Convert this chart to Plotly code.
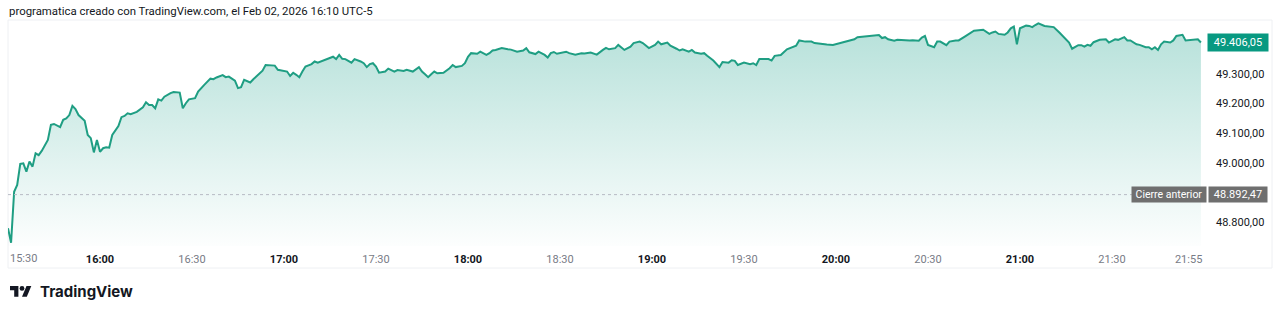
import pandas as pd
import plotly.graph_objects as go

# ---------------- data ----------------
session_start = "2026-02-02 15:30"
minutes_since_open = [
    0, 1, 2, 3, 4, 5, 6, 7, 8, 9, 10, 11, 13, 14, 15, 17, 18, 19, 20, 21, 22, 23, 25, 26, 27, 28, 29, 30,
    31, 32, 33, 34, 36, 37, 38, 39, 40, 42, 44, 45, 46, 47, 48, 49, 50, 51, 53, 54, 56, 57, 58, 59, 61, 62,
    64, 66, 67, 68, 70, 71, 72, 73, 74, 75, 76, 77, 78, 79, 80, 82, 83, 84, 86, 87, 88, 90, 91, 92, 93, 94,
    95, 96, 97, 99, 100, 101,
    104, 106, 107, 108, 109, 110, 112, 113, 115, 116, 117, 118, 119, 120, 121, 123, 124, 126, 127, 129, 130,
    131, 132, 134, 135, 136, 137, 138, 139, 140, 142, 144, 145, 146, 148, 149, 150, 151, 153, 154, 156, 157,
    158, 159, 161, 163, 164, 166, 168, 169, 170, 172, 173, 175, 176, 177, 178, 179, 182, 183, 185, 187, 188,
    190, 191, 192, 194, 195, 196, 198, 199, 201, 203, 204, 206,
    207, 209, 211, 212, 213, 215, 216, 218, 219, 220, 222, 223, 224, 226, 227, 228, 230, 232, 233, 235, 236,
    237, 238, 240, 242, 243, 244, 245, 248, 249, 250, 252, 253, 254, 257, 258, 260, 262, 263, 265, 267, 269,
    271, 272, 274, 276, 277, 279, 281, 282, 284, 285, 286, 287, 289, 290, 292, 294, 295, 297, 298, 299, 300,
    302, 303, 304, 306, 307, 309,
    310, 312, 314, 315, 318, 320, 321, 322, 323, 325, 326, 327, 328, 329, 330, 332, 333, 334, 335, 336, 338,
    339, 341, 343, 345, 346, 347, 349, 350, 351, 352, 353, 354, 356, 358, 359, 361, 362, 364, 365, 366, 368,
    369, 371, 372, 373, 374, 375, 376, 377, 379, 380, 381, 383, 384, 386, 388, 389,
]
prices = [
    48779, 48730, 48902, 48925, 48996, 48998, 48970, 49004, 48987, 49032, 49026, 49040, 49077, 49128, 49131,
    49120, 49145, 49150, 49161, 49192, 49181, 49161, 49142, 49094, 49083, 49035, 49077, 49037, 49049, 49052,
    49051, 49094, 49124, 49154, 49158, 49167, 49164, 49172, 49187, 49204, 49195, 49195, 49184, 49214, 49210,
    49223, 49235, 49239, 49237, 49184, 49201, 49214, 49218, 49240, 49263, 49284, 49282, 49288, 49296, 49289,
    49291, 49283, 49277, 49252, 49255, 49280, 49276, 49271, 49282, 49302, 49311, 49330, 49330, 49328, 49314,
    49311, 49308, 49293, 49304, 49297, 49289, 49308, 49325, 49333, 49342, 49338,
    49350, 49358, 49350, 49364, 49351, 49350, 49338, 49350, 49342, 49336, 49323, 49333, 49336, 49325, 49304,
    49308, 49318, 49308, 49313, 49310, 49314, 49310, 49308, 49323, 49308, 49299, 49289, 49299, 49308, 49302,
    49304, 49319, 49330, 49323, 49327, 49336, 49358, 49370, 49368, 49375, 49364, 49370, 49379, 49381, 49387,
    49383, 49382, 49375, 49379, 49387, 49373, 49367, 49375, 49364, 49355, 49370, 49374, 49368, 49375, 49370,
    49365, 49370, 49369, 49372, 49369, 49365, 49381, 49388, 49383, 49387, 49398, 49381, 49392, 49404, 49409,
    49404, 49387, 49398, 49409, 49400, 49406, 49395, 49385, 49379, 49383, 49375, 49381, 49372, 49368, 49370,
    49361, 49345, 49323, 49340, 49338, 49346, 49344, 49330, 49338, 49333, 49336, 49330, 49350, 49350, 49345,
    49361, 49364, 49372, 49383, 49395, 49413, 49409, 49409, 49404, 49401, 49399, 49398, 49404, 49407, 49412,
    49417, 49424, 49426, 49426, 49429, 49431, 49421, 49424, 49417, 49412, 49415, 49413, 49413, 49414, 49412,
    49423, 49428, 49398, 49390, 49409, 49409, 49397, 49409, 49413,
    49413, 49426, 49438, 49446, 49449, 49435, 49440, 49443, 49435, 49432, 49440, 49454, 49460, 49400, 49454,
    49463, 49462, 49458, 49465, 49471, 49462, 49460, 49458, 49438, 49415, 49406, 49385, 49397, 49397, 49392,
    49398, 49395, 49407, 49415, 49417, 49406, 49417, 49415, 49424, 49413, 49413, 49400, 49398, 49390, 49390,
    49383, 49390, 49381, 49400, 49409, 49406, 49413, 49428, 49432, 49413, 49415, 49417, 49406.05,
]
previous_close = 48892.47
previous_close_label = "Cierre anterior"
y_tick_values = [48800, 49000, 49100, 49200, 49300]
x_tick_labels = ["16:00", "16:30", "17:00", "17:30", "18:00", "18:30", "19:00", "19:30",
                 "20:00", "20:30", "21:00", "21:30", "21:55"]
first_time_label = "15:30"
header_text = "programatica creado con TradingView.com, el Feb 02, 2026 16:10 UTC-5"
brand_text = "TradingView"

if len(minutes_since_open) != len(prices):
    raise SystemExit(f"length mismatch {len(minutes_since_open)} vs {len(prices)}")

# ---------------- styling / geometry ----------------
W, H = 1280, 315
ML, MR, MT, MB = 8, 75, 20, 69
PW, PH = W - ML - MR, H - MT - MB
FONT = "Roboto"
BRAND_FONT = "Inter"
DARK = "#131722"
GREY = "#787b86"
LINE = "#1f9e83"
GREEN_LABEL = "#089981"
GREY_LABEL = "#6f6f6f"


def px_x(p):
    return (p - ML) / PW


def px_y(p):
    return (MT + PH - p) / PH


def fmt(v):
    s = f"{v:,.2f}"
    return s.replace(",", "_").replace(".", ",").replace("_", ".")


t0 = pd.Timestamp(session_start)
times = [t0 + pd.Timedelta(minutes=m) for m in minutes_since_open]
day = t0.strftime("%Y-%m-%d")
x_tick_vals = [pd.Timestamp(f"{day} {lbl}") for lbl in x_tick_labels]
x_tick_text = [f"<b>{lbl}</b>" if lbl.endswith(":00") else f"<span style='color:{GREY}'>{lbl}</span>"
               for lbl in x_tick_labels]

y_bottom, y_top = 48719, 49482
x_end = t0 + pd.Timedelta(minutes=390, seconds=20)

fig = go.Figure()
fig.add_trace(go.Scatter(
    x=times, y=prices, mode="lines",
    line=dict(color=LINE, width=2),
    fill="tozeroy",
    fillgradient=dict(type="vertical",
                      colorscale=[[0, "rgba(8,153,129,0.01)"], [1, "rgba(8,153,129,0.30)"]],
                      start=y_bottom, stop=max(prices)),
    hoverinfo="skip",
))

shapes = [
    # chart frame
    dict(type="rect", xref="paper", yref="paper", x0=px_x(8), x1=px_x(1272), y0=px_y(268), y1=px_y(20),
         line=dict(color="#eef0f3", width=1), fillcolor="rgba(0,0,0,0)", layer="below"),
    # previous close dotted line
    dict(type="line", xref="paper", yref="y", x0=0, x1=1, y0=previous_close, y1=previous_close,
         line=dict(color="#b8bbc4", width=1, dash="dot")),
]

# TradingView logo (T block, dot, slash) in logo units -> pixels
S = 0.6


def LX(u):
    return px_x(10 + S * u)


def LY(v):
    return px_y(286 + S * (v - 4))


t_path = "M {} {} L {} {} L {} {} L {} {} L {} {} L {} {} Z".format(
    LX(0), LY(4), LX(14), LY(4), LX(14), LY(22), LX(7), LY(22), LX(7), LY(11), LX(0), LY(11))
slash_path = "M {} {} L {} {} L {} {} L {} {} Z".format(
    LX(20), LY(22), LX(27.5), LY(4), LX(35.5), LY(4), LX(28), LY(22))
shapes += [
    dict(type="path", xref="paper", yref="paper", path=t_path, fillcolor=DARK, line=dict(width=0)),
    dict(type="path", xref="paper", yref="paper", path=slash_path, fillcolor=DARK, line=dict(width=0)),
    dict(type="circle", xref="paper", yref="paper", x0=LX(16), x1=LX(24), y0=LY(12), y1=LY(4),
         fillcolor=DARK, line=dict(width=0)),
]

annotations = [
    dict(text=header_text, xref="paper", yref="paper", x=px_x(7), y=px_y(11), xanchor="left",
         yanchor="middle", showarrow=False, font=dict(family=FONT, size=11.4, color=DARK)),
    dict(text=f"<b>{brand_text}</b>", xref="paper", yref="paper", x=px_x(38), y=px_y(291),
         xanchor="left", yanchor="middle", showarrow=False,
         font=dict(family=BRAND_FONT, size=15, color=DARK)),
    dict(text=first_time_label, xref="x", yref="paper", x=t0, y=px_y(258), xanchor="left",
         yanchor="middle", showarrow=False, font=dict(family=FONT, size=11, color=GREY)),
    # last price badge
    dict(text=fmt(prices[-1]), xref="paper", yref="y", x=1, y=prices[-1], xanchor="left",
         yanchor="middle", xshift=2, showarrow=False, bgcolor=GREEN_LABEL, borderpad=2,
         font=dict(family=FONT, size=11, color="white"), width=56),
    # previous close badges
    dict(text=previous_close_label, xref="paper", yref="y", x=1, y=previous_close, xanchor="right",
         yanchor="middle", xshift=2, showarrow=False, bgcolor=GREY_LABEL, borderpad=1,
         font=dict(family=FONT, size=10.5, color="white"), width=72),
    dict(text=fmt(previous_close), xref="paper", yref="y", x=1, y=previous_close, xanchor="left",
         yanchor="middle", xshift=3, showarrow=False, bgcolor=GREY_LABEL, borderpad=1,
         font=dict(family=FONT, size=11, color="white"), width=56),
]

fig.update_layout(
    width=W, height=H,
    margin=dict(l=ML, r=MR, t=MT, b=MB, pad=0),
    paper_bgcolor="white", plot_bgcolor="white",
    separators=",.",
    showlegend=False,
    font=dict(family=FONT, size=11, color=DARK),
    shapes=shapes,
    annotations=annotations,
    xaxis=dict(
        type="date", range=[t0, x_end], tickvals=x_tick_vals, ticktext=x_tick_text,
        showgrid=False, zeroline=False, showline=False, ticks="",
        ticklabelstandoff=5, tickfont=dict(family=FONT, size=11, color=DARK),
    ),
    yaxis=dict(
        side="right", range=[y_bottom, y_top], tickvals=y_tick_values, tickformat=",.2f",
        showgrid=False, zeroline=False, showline=False, ticks="",
        ticklabelstandoff=10, tickfont=dict(family=FONT, size=11, color=DARK),
    ),
)

fig.write_html("out.html")
